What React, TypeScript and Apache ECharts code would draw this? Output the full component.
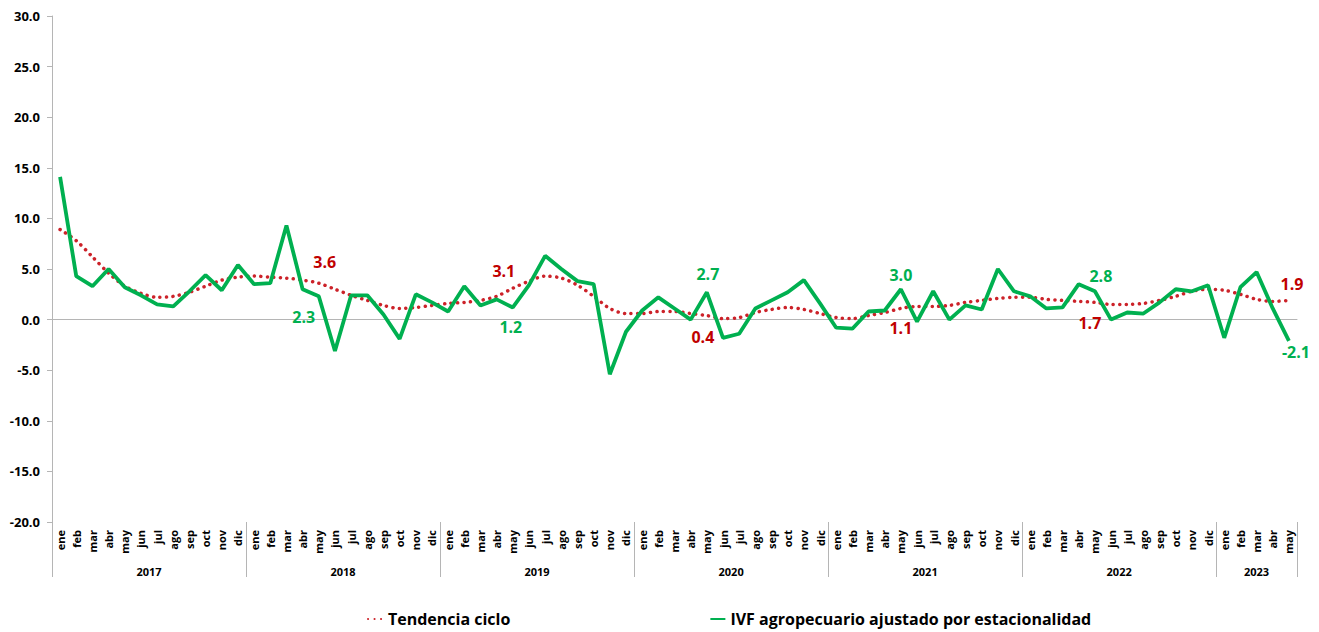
import { useEffect, useRef } from "react";
import * as echarts from "echarts";

const monthNames = ["ene", "feb", "mar", "abr", "may", "jun", "jul", "ago", "sep", "oct", "nov", "dic"];
const years = ["2017", "2018", "2019", "2020", "2021", "2022", "2023"];
const monthsPerYear = [12, 12, 12, 12, 12, 12, 5];

const tendenciaCiclo = [
  8.9, 7.8, 6.2, 4.6, 3.3, 2.6, 2.2, 2.3, 2.7, 3.3, 3.9, 4.2,
  4.3, 4.2, 4.1, 3.9, 3.6, 3.0, 2.4, 1.9, 1.4, 1.1, 1.2, 1.4,
  1.6, 1.7, 1.9, 2.3, 3.1, 3.8, 4.3, 4.1, 3.4, 2.3, 1.1, 0.6,
  0.6, 0.8, 0.8, 0.6, 0.4, 0.1, 0.2, 0.7, 1.0, 1.2, 1.0, 0.6,
  0.2, 0.1, 0.4, 0.7, 1.1, 1.3, 1.3, 1.4, 1.7, 1.9, 2.1, 2.2,
  2.2, 2.0, 1.9, 1.8, 1.7, 1.5, 1.5, 1.6, 1.9, 2.3, 2.8, 3.0,
  2.9, 2.5, 2.0, 1.8, 1.9,
];

const ivfAjustado = [
  14.1, 4.3, 3.3, 5.0, 3.2, 2.4, 1.5, 1.3, 2.8, 4.4, 2.9, 5.4,
  3.5, 3.6, 9.3, 3.0, 2.3, -3.1, 2.4, 2.4, 0.5, -1.9, 2.5, 1.7,
  0.8, 3.3, 1.4, 2.0, 1.2, 3.4, 6.3, 5.0, 3.8, 3.5, -5.4, -1.2,
  0.9, 2.2, 1.1, 0.0, 2.7, -1.8, -1.4, 1.1, 1.9, 2.7, 3.9, 1.6,
  -0.8, -0.9, 0.8, 0.9, 3.0, -0.2, 2.8, 0.0, 1.4, 1.0, 5.0, 2.8,
  2.3, 1.1, 1.2, 3.5, 2.8, 0.0, 0.7, 0.6, 1.7, 3.0, 2.8, 3.4,
  -1.8, 3.2, 4.7, 1.1, -2.1,
];

const labeledIdx = [16, 28, 40, 52, 64, 76];

const FONT = "'Open Sans', sans-serif";

export default function App() {
  const ref = useRef<HTMLDivElement>(null);

  useEffect(() => {
    if (!ref.current) return;
    const chart = echarts.init(ref.current, null, { renderer: "svg" });

    const categories: string[] = [];
    const boundaries: number[] = [0];
    const mids: number[] = [];
    let acc = 0;
    monthsPerYear.forEach((n) => {
      for (let m = 0; m < n; m++) categories.push(monthNames[m]);
      mids.push(acc + n / 2);
      acc += n;
      boundaries.push(acc);
    });
    const total = acc;
    const yearFor = (v: number) => {
      let a = 0;
      for (let k = 0; k < monthsPerYear.length; k++) {
        if (v < a + monthsPerYear[k]) return years[k];
        a += monthsPerYear[k];
      }
      return years[years.length - 1];
    };

    const redLabelStyle: Record<number, any> = {
      16: { position: "top", offset: [6, -8] },
      28: { position: "top", offset: [-9, -4] },
      40: { position: "bottom", offset: [-4, 8] },
      52: { position: "bottom", offset: [0, 6] },
      64: { position: "bottom", offset: [-5, 7] },
      76: { position: "top", offset: [3, -3] },
    };
    const greenLabelStyle: Record<number, any> = {
      16: { position: "bottom", offset: [-15, 7] },
      28: { position: "bottom", offset: [-2, 6] },
      40: { position: "top", offset: [1, -5] },
      52: { position: "top", offset: [0, -1] },
      64: { position: "top", offset: [6, -2] },
      76: { position: "bottom", offset: [7, -2] },
    };

    const mk = (vals: number[], styles: Record<number, any>, color: string) =>
      vals.map((v, i) =>
        labeledIdx.includes(i)
          ? {
              value: v,
              symbol: "circle",
              symbolSize: 0.5,
              itemStyle: { color: "rgba(0,0,0,0)", borderWidth: 0 },
              label: {
                show: true,
                ...styles[i],
                formatter: (p: any) => Number(p.value).toFixed(1),
                color,
                fontSize: 16,
                fontWeight: "bold",
                fontFamily: FONT,
              },
            }
          : v
      );

    const gray = "#b5b5b5";

    chart.setOption({
      animation: false,
      backgroundColor: "#ffffff",
      grid: { left: 52, right: 22, top: 16, bottom: 110 },
      legend: {
        left: 362,
        top: 606,
        itemWidth: 15,
        itemHeight: 6,
        itemGap: 199,
        itemStyle: { opacity: 0 },
        textStyle: { fontFamily: FONT, fontWeight: "bold", fontSize: 16, color: "#000" },
        data: ["Tendencia ciclo", "IVF agropecuario ajustado por estacionalidad"],
      },
      xAxis: [
        {
          type: "category",
          data: categories,
          boundaryGap: true,
          axisLine: { show: true, lineStyle: { color: gray, width: 1 } },
          axisTick: { show: false },
          axisLabel: {
            interval: 0,
            rotate: 90,
            margin: 8,
            fontSize: 11,
            fontWeight: "bold",
            fontFamily: FONT,
            color: "#000",
          },
        },
        {
          type: "value",
          min: 0,
          max: total,
          position: "bottom",
          axisLine: { show: false },
          splitLine: { show: false },
          axisTick: {
            show: true,
            customValues: boundaries,
            length: 55,
            lineStyle: { color: gray, width: 1 },
          },
          axisLabel: {
            customValues: mids,
            formatter: (v: number) => yearFor(v),
            margin: 44,
            fontSize: 11,
            fontWeight: "bold",
            fontFamily: FONT,
            color: "#000",
          },
        },
      ],
      yAxis: {
        type: "value",
        min: -20,
        max: 30,
        interval: 5,
        axisLine: { show: true, lineStyle: { color: gray, width: 1 } },
        axisTick: { show: true, length: 5, lineStyle: { color: gray } },
        splitLine: { show: false },
        axisLabel: {
          formatter: (v: number) => v.toFixed(1),
          margin: 12,
          fontSize: 13,
          fontWeight: "bold",
          fontFamily: FONT,
          color: "#000",
        },
      },
      series: [
        {
          name: "Tendencia ciclo",
          type: "line",
          xAxisIndex: 0,
          data: mk(tendenciaCiclo, redLabelStyle, "#C00000"),
          symbol: "none",
          showSymbol: true,
          smooth: 0.3,
          itemStyle: { color: "#CC2229" },
          lineStyle: { color: "#CC2229", width: 3.5, type: [0.1, 6.4], cap: "round" },
          z: 2,
        },
        {
          name: "IVF agropecuario ajustado por estacionalidad",
          type: "line",
          xAxisIndex: 0,
          data: mk(ivfAjustado, greenLabelStyle, "#00B050"),
          symbol: "none",
          showSymbol: true,
          itemStyle: { color: "#00B050" },
          lineStyle: { color: "#00B050", width: 3.8 },
          z: 3,
        },
      ],
    });

    return () => chart.dispose();
  }, []);

  return (
    <div
      ref={ref}
      style={{ position: "fixed", left: 0, top: 0, width: 1319, height: 632 }}
    />
  );
}
